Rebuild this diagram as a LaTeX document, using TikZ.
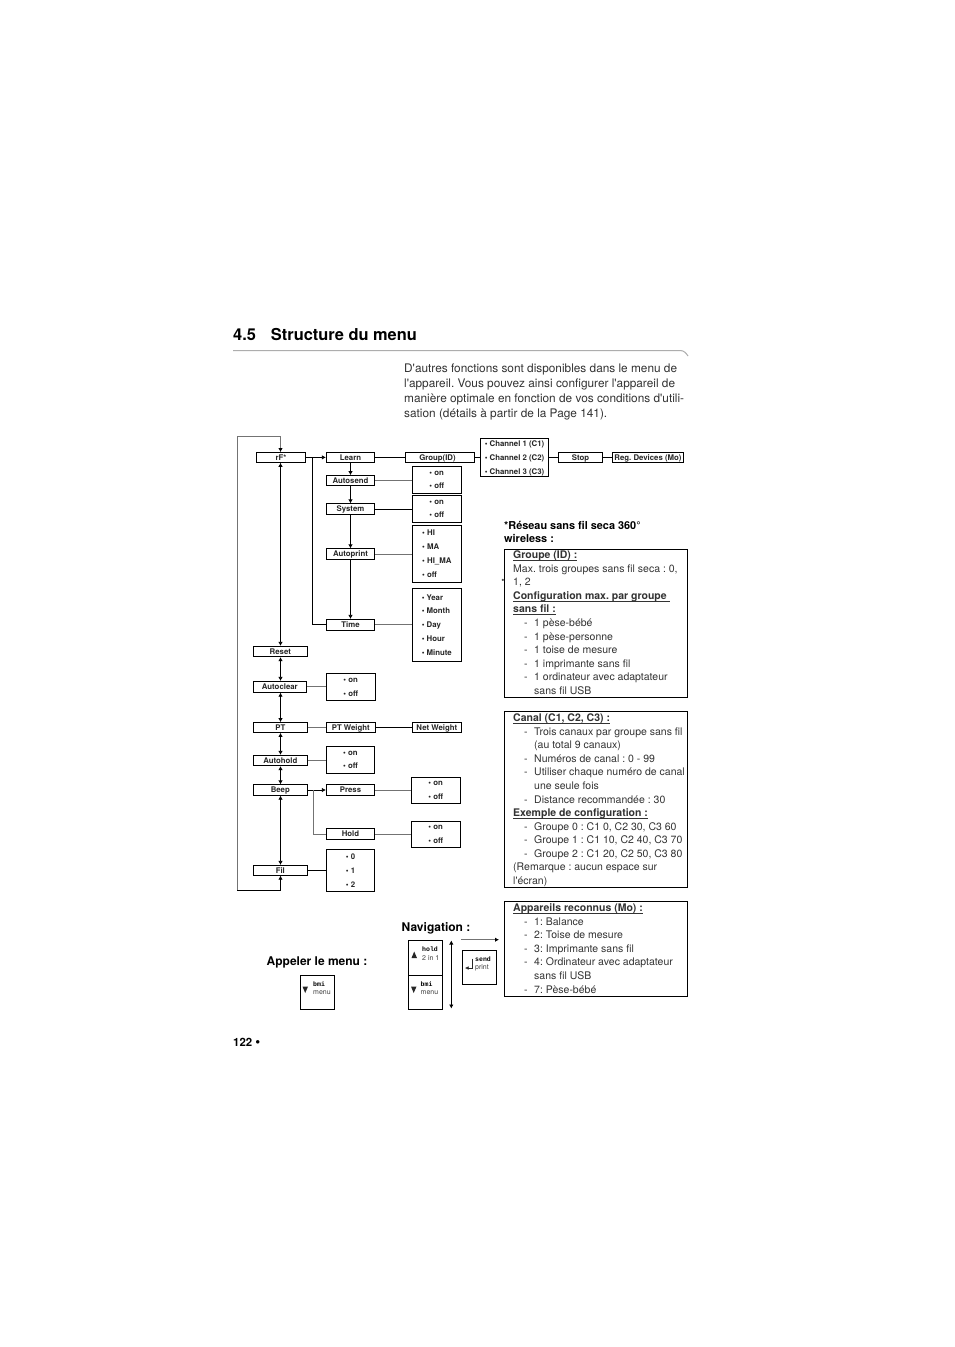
\documentclass[tikz,border=0pt]{standalone}
\usepackage{fontspec}
\setmainfont[Ligatures=TeXOff]{TeX Gyre Heros}
\newfontfamily\keyfont{Liberation Mono}
\usetikzlibrary{arrows.meta}
\frenchspacing
\newcommand{\smf}{\fontsize{7.8}{13.75}\selectfont\bfseries}
\newcommand{\bodyf}{\fontsize{10.5}{13.55}\selectfont}
\newcommand{\dl}[1]{\makebox[21pt][l]{\hspace{11pt}-}#1}
\newcommand{\cl}[1]{\makebox[21pt][l]{}#1}
\newcommand{\ub}[1]{\rule{0pt}{8pt}\textbf{\underline{\smash{#1}}}}
\definecolor{ruleg}{gray}{0.68}
\definecolor{lineg}{gray}{0.45}
\definecolor{txt}{gray}{0.2}
\tikzset{
  x=1pt,y=-1pt,
  mbox/.style={draw=black,line width=0.7pt,inner sep=0pt,font=\smf,align=center,text=black!85,text height=5.6pt,text depth=0pt},
  lbox/.style={draw=black,line width=0.7pt,inner sep=0pt,font=\smf,align=left,text=black!85},
  infobox/.style={draw=black,line width=0.8pt,inner sep=0pt,anchor=north west},
  info/.style={inner sep=0pt,anchor=north west,align=left,font=\bodyf,text=txt},
  keybox/.style={draw=black,line width=0.8pt,inner sep=0pt,anchor=north west,minimum width=34.4pt,minimum height=34.4pt},
  head/.style={inner sep=0pt,anchor=base west,font=\fontsize{10.9}{13.2}\selectfont\bfseries,align=left},
  wire/.style={line width=0.7pt,black},
  gwire/.style={line width=0.8pt,lineg},
  tip/.style={-{Latex[black,length=4pt,width=4.4pt]}},
  dtip/.style={{Latex[black,length=4pt,width=4.4pt]}-{Latex[black,length=4pt,width=4.4pt]}},
  keytxt/.style={inner sep=0pt,font=\fontsize{7}{8.5}\selectfont,align=left,text=black!75},
}
\newcommand{\kb}[1]{{\keyfont\bfseries\fontsize{6.5}{8.5}\selectfont\textcolor{black}{#1}}}
\begin{document}
\begin{tikzpicture}
\useasboundingbox (0,0) rectangle (954,1347);
\fill[white] (0,0) rectangle (954,1347);
% header
\node[inner sep=0pt,anchor=base west,font=\fontsize{16.4}{20}\selectfont\bfseries] (title) at (233,340) {4.5\hspace{15pt}Structure du menu};
\draw[ruleg,line width=1pt] (233,350.5) -- (680,350.5) .. controls (684,350.5) and (686,353) .. (688,356);
\node[inner sep=0pt,anchor=north west,align=left,font=\fontsize{11.83}{15}\selectfont,text=txt] (intro) at (404,363.5) {D'autres fonctions sont disponibles dans le menu de\\l'appareil. Vous pouvez ainsi configurer l'appareil de\\manière optimale en fonction de vos conditions d'utili-\\sation (détails à partir de la Page 141).};
\coordinate (spine) at (280.5,0);
% left column
\node[mbox,minimum width=49pt,minimum height=10pt] (rf) at (281,457.4) {rF*};
\node[mbox,minimum width=54pt,minimum height=10.5pt] (reset) at (280.3,651.5) {Reset};
\node[mbox,minimum width=53pt,minimum height=11pt] (aclear) at (279.8,686.8) {Autoclear};
\node[mbox,minimum width=54pt,minimum height=10pt] (pt) at (280.3,727.5) {PT};
\node[mbox,minimum width=54pt,minimum height=10.5pt] (ahold) at (280.3,760.5) {Autohold};
\node[mbox,minimum width=54pt,minimum height=10.5pt] (beep) at (280.3,790) {Beep};
\node[mbox,minimum width=54pt,minimum height=10pt] (fil) at (280.3,870.3) {Fil};
% second column
\node[mbox,minimum width=48.5pt,minimum height=10.5pt] (learn) at (350.5,457.4) {Learn};
\node[mbox,minimum width=48.5pt,minimum height=10pt] (asend) at (350.5,480.5) {Autosend};
\node[mbox,minimum width=48.5pt,minimum height=10.5pt] (system) at (350.5,509) {System};
\node[mbox,minimum width=48.5pt,minimum height=10.5pt] (aprint) at (350.5,554) {Autoprint};
\node[mbox,minimum width=48.5pt,minimum height=11pt] (time) at (350.5,624.8) {Time};
\node[mbox,minimum width=49pt,minimum height=10pt] (ptw) at (350.8,727.5) {PT Weight};
\node[mbox,minimum width=48.5pt,minimum height=11pt] (press) at (350.5,790) {Press};
\node[mbox,minimum width=48.5pt,minimum height=10.5pt] (hold) at (350.5,834) {Hold};
% third column
\node[mbox,minimum width=69.5pt,minimum height=10pt] (group) at (440,457.4) {Group(ID)\hspace{5pt}};
\node[mbox,minimum width=49pt,minimum height=10pt] (net) at (436.8,727.5) {Net Weight};
\node[lbox,minimum width=49pt,minimum height=27pt] (o1) at (436.8,479.8) {• on\\• off};
\node[lbox,minimum width=49pt,minimum height=27pt] (o2) at (436.8,508.8) {• on\\• off};
\node[lbox,minimum width=49pt,minimum height=57pt] (o3) at (436.8,553.8) {• HI\\• MA\\• HI\_MA\\• off};
\node[lbox,minimum width=49pt,minimum height=73pt] (o4) at (436.8,624.8) {• Year\\• Month\\• Day\\• Hour\\• Minute};
\node[lbox,minimum width=49pt,minimum height=27pt] (o5) at (350.8,687.2) {• on\\• off};
\node[lbox,minimum width=48.5pt,minimum height=27.4pt] (o6) at (350.5,760) {• on\\• off};
\node[lbox,minimum width=49pt,minimum height=26.4pt] (o7) at (435.8,790.5) {• on\\• off};
\node[lbox,minimum width=49pt,minimum height=26.4pt] (o8) at (435.8,834.5) {• on\\• off};
\node[lbox,minimum width=48.5pt,minimum height=42.4pt] (o9) at (350.5,870.5) {• 0\\• 1\\• 2};
% top row right
\node[lbox,minimum width=68.4pt,minimum height=37.7pt] (chan) at (514.5,457.4) {\rule{0pt}{8pt}• Channel 1 (C1)\\• Channel 2 (C2)\\• Channel 3 (C3)};
\node[mbox,minimum width=44.4pt,minimum height=10pt] (stop) at (580.5,457.4) {Stop};
\node[mbox,minimum width=71.4pt,minimum height=10pt] (reg) at (648,457.4) {Reg. Devices (Mo)};
% left column arrows
\draw[wire,dtip] (rf.south -| spine) -- (reset.north -| spine);
\draw[wire,dtip] (reset.south -| spine) -- (aclear.north -| spine);
\draw[wire,dtip] (aclear.south -| spine) -- (pt.north -| spine);
\draw[wire,dtip] (pt.south -| spine) -- (ahold.north -| spine);
\draw[wire,dtip] (ahold.south -| spine) -- (beep.north -| spine);
\draw[wire,dtip] (beep.south -| spine) -- (fil.north -| spine);
\coordinate (looptop) at (237.3,436);
\coordinate (loopbot) at (237.3,890.7);
\draw[gwire,tip] (loopbot) -- (looptop) -- (looptop -| spine) -- (rf.north -| spine);
\draw[wire,tip] (loopbot) -- (loopbot -| spine) -- (fil.south -| spine);
% second column arrows
\draw[wire,tip] (rf) -- (learn);
\draw[wire,tip] (learn) -- (asend);
\draw[wire,tip] (asend) -- (system);
\draw[wire,tip] (system) -- (aprint);
\draw[wire,tip] (aprint) -- (time);
\coordinate (branchA) at (312.5,457.4);
\draw[wire] (branchA) |- (time.west);
\draw[wire,tip] (beep) -- (press);
\coordinate (branchB) at (313,790);
\draw[gwire] (branchB) |- (hold.west);
% plain connectors
\draw[wire] (learn) -- (group);
\draw[wire] (group) -- (chan);
\draw[wire] (chan) -- (stop);
\draw[wire] (stop) -- (reg);
\draw[gwire] (asend) -- (asend -| o1.west);
\draw[wire] (system) -- (system -| o2.west);
\draw[gwire] (aprint) -- (aprint -| o3.west);
\draw[gwire] (time) -- (time -| o4.west);
\draw[gwire] (aclear) -- (aclear -| o5.west);
\draw[gwire] (pt) -- (ptw);
\draw[wire] (ptw) -- (net);
\draw[gwire] (ahold) -- (ahold -| o6.west);
\draw[gwire] (press) -- (press -| o7.west);
\draw[gwire] (hold) -- (hold -| o8.west);
\draw[wire] (fil) -- (fil -| o9.west);
% stray mark behind the first box
\node[inner sep=0pt,font=\fontsize{9}{9}\selectfont,text=black!70] (stray) at (503,581.5) {•};
% info heading
\node[head] (wl) at (504,542.2) {*Réseau sans fil seca 360°\\wireless :};
% info boxes
\node[infobox,fill=white,minimum width=183.4pt,minimum height=148pt] (b1) at (504,549.2) {};
\node[infobox,minimum width=183.4pt,minimum height=176pt] (b2) at (504,711.2) {};
\node[infobox,minimum width=183.4pt,minimum height=95pt] (b3) at (504,901.2) {};
\node[info] (t1) at (513,550.5) {\ub{Groupe (ID) :}\\Max. trois groupes sans fil seca : 0,\\1, 2\\\ub{Configuration max. par groupe }\\\ub{sans fil :}\\\dl{1 pèse-bébé}\\\dl{1 pèse-personne}\\\dl{1 toise de mesure}\\\dl{1 imprimante sans fil}\\\dl{1 ordinateur avec adaptateur}\\\cl{sans fil USB}};
\node[info] (t2) at (513,713.5) {\ub{Canal (C1, C2, C3) :}\\\dl{Trois canaux par groupe sans fil}\\\cl{(au total 9 canaux)}\\\dl{Numéros de canal : 0 - 99}\\\dl{Utiliser chaque numéro de canal}\\\cl{une seule fois}\\\dl{Distance recommandée : 30}\\\ub{Exemple de configuration :}\\\dl{Groupe 0 : C1 0, C2 30, C3 60}\\\dl{Groupe 1 : C1 10, C2 40, C3 70}\\\dl{Groupe 2 : C1 20, C2 50, C3 80}\\(Remarque : aucun espace sur\\l'écran)};
\node[info] (t3) at (513,903.5) {\ub{Appareils reconnus (Mo) :}\\\dl{1: Balance}\\\dl{2: Toise de mesure}\\\dl{3: Imprimante sans fil}\\\dl{4: Ordinateur avec adaptateur}\\\cl{sans fil USB}\\\dl{7: Pèse-bébé}};
% keys
\node[head,font=\fontsize{12}{13}\selectfont\bfseries] (call) at (266.5,965) {Appeler le menu :};
\node[head,font=\fontsize{12}{13}\selectfont\bfseries] (nav) at (401.5,931.5) {Navigation :};
\node[keybox] (k0) at (300,975) {};
\node[keybox] (k1) at (408,940.3) {};
\node[keybox] (k2) at (408,974.7) {};
\node[keybox] (k3) at (461.8,950) {};
\node[keytxt,anchor=north west] (k0t) at (313,981.5) {\kb{bmi}\\menu};
\node[keytxt,anchor=north west] (k1t) at (422,947) {\kb{hold}\\2 in 1};
\node[keytxt,anchor=north west] (k2t) at (420.5,981.5) {\kb{bmi}\\menu};
\node[keytxt,anchor=north west] (k3t) at (475,956.5) {\kb{send}\\print};
\fill[black!85] (302.5,986.5) -- (308,986.5) -- (305.2,993) -- cycle;
\fill[black!85] (411.5,958) -- (417,958) -- (414.2,951.5) -- cycle;
\fill[black!85] (411,986.5) -- (416.5,986.5) -- (413.7,993) -- cycle;
\draw[black!85,line width=0.5pt,-{Latex[length=3.5pt,width=3.5pt]}] (472.5,958.5) -- (472.5,968) -- (465,968);
% navigation arrows
\coordinate (vtop) at (451.3,940.5);
\coordinate (vbot) at (451.3,1008.5);
\draw[wire,dtip] (vtop) -- (vbot);
\coordinate (hl) at (461,939.7);
\draw[gwire,tip,shorten >=5pt] (hl) -- (b3.west |- hl);
% footer
\node[inner sep=0pt,anchor=base west,font=\fontsize{11.4}{13}\selectfont\bfseries] (pg) at (233,1046) {122 {\fontsize{14}{13}\selectfont •}};
\end{tikzpicture}
\end{document}
